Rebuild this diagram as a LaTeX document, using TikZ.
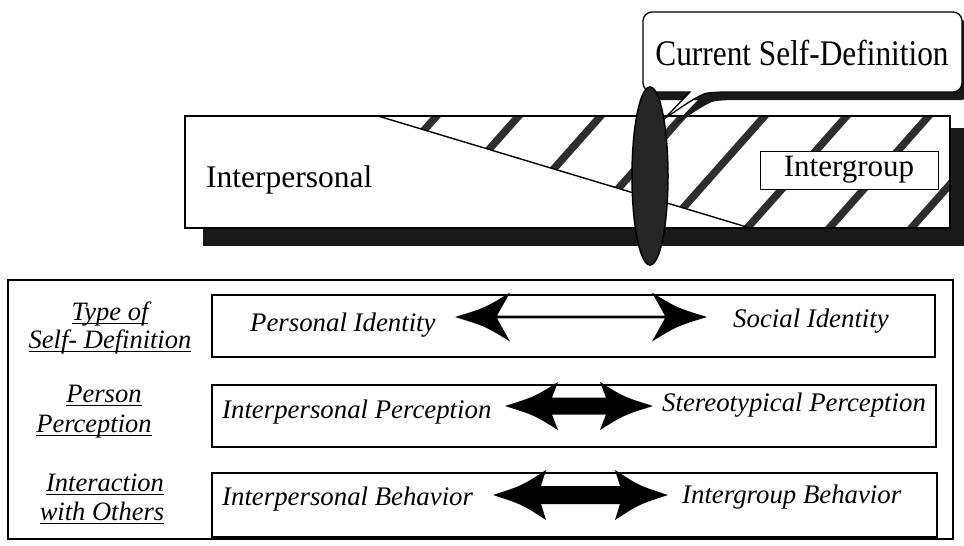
\documentclass[tikz,border=0pt]{standalone}
\usepackage{fontspec}
\setmainfont{Liberation Serif}
\newcommand\ulx[1]{\setbox0\hbox{#1}\rlap{\rule[-4pt]{\wd0}{1.3pt}}\box0}
\newcommand\dblarrow[8]{%
  \fill[black] (#2,#4)
    .. controls ({#2+0.55*#5},{#4-0.38*#6}) .. ({#2+#5},{#4-#6})
    -- ({#2+#5-#8},{#4-#7}) -- ({#3-#5+#8},{#4-#7}) -- ({#3-#5},{#4-#6})
    .. controls ({#3-0.55*#5},{#4-0.38*#6}) .. (#3,#4)
    .. controls ({#3-0.55*#5},{#4+0.38*#6}) .. ({#3-#5},{#4+#6})
    -- ({#3-#5+#8},{#4+#7}) -- ({#2+#5-#8},{#4+#7}) -- ({#2+#5},{#4+#6})
    .. controls ({#2+0.55*#5},{#4+0.38*#6}) .. (#2,#4) -- cycle;
  \coordinate (#1) at ({(#2+#3)/2},#4);}
\begin{document}
\begin{tikzpicture}[x=1pt,y=-1pt,
  shadowc/.style={fill=black!90},
  bandtxt/.style={font=\fontsize{31.5}{36}\selectfont, anchor=base west, inner sep=0},
  itxt/.style={font=\fontsize{26.8}{30}\selectfont\itshape, anchor=base west, inner sep=0},
  lbl/.style={font=\fontsize{26.5}{30}\selectfont\itshape, anchor=base, inner sep=0},
  rowbox/.style={draw, line width=1.4pt},
  stripe/.style={line width=7.5pt, draw=black!82},
  frame/.style={line width=1.5pt}]
\useasboundingbox (0,0) rectangle (964,546);

% ---- top band ----
\fill[shadowc] (203,128) rectangle (968,246);
\fill[white] (185,116) rectangle (950,228);
\begin{scope}
  \clip (378,116) -- (950,116) -- (950,228) -- (750,228) -- cycle;
  \foreach \k in {-1,...,8}
    \draw[stripe] ({437+82*\k+5},110) -- ({437+82*\k-105},234);
\end{scope}
\draw[line width=1.4pt] (378,116) -- (750,228);
\draw[frame] (185,116) rectangle (950,228);

\node[bandtxt] (ip) at (206,187) {Interpersonal};
\node[draw, fill=white, line width=1pt, minimum width=178, minimum height=38,
      inner sep=0, font=\fontsize{31}{34}\selectfont] (ig) at (849,170) {Intergroup};

% ---- callout ----
\fill[shadowc, shift={(8,8)}]
  [rounded corners=9] (643,50) -- (643,12) -- (962,12) -- (962,92) -- (716,92)
  [sharp corners] .. controls (700,94) and (680,108) .. (664,119) -- (690,92)
  [rounded corners=9] -- (643,92) -- cycle;
\draw[fill=white, line width=1.3pt]
  [rounded corners=9] (643,50) -- (643,12) -- (962,12) -- (962,92) -- (716,92)
  [sharp corners] .. controls (700,94) and (680,108) .. (664,119) -- (690,92)
  [rounded corners=9] -- (643,92) -- cycle;
\node[font=\fontsize{36}{40}\selectfont, inner sep=0, anchor=base] (csd) at (802,65)
  {\scalebox{0.87}[1]{Current Self-Definition}};

% ---- ellipse ----
\filldraw[fill=black!85, draw=black, line width=1.5pt] (650,176) ellipse [x radius=18, y radius=89];

% ---- lower panel ----
\draw[frame] (8,280) rectangle (953,539);
\draw[rowbox] (212,295) rectangle (935,357);
\draw[rowbox] (212,385) rectangle (936,447);
\draw[rowbox] (212,473) rectangle (937,537);

\node[lbl] (l1a) at (110,320) {\ulx{Type of}};
\node[lbl] (l1b) at (110,348) {\ulx{Self- Definition}};
\node[lbl] (l2a) at (104,402) {\ulx{Person}};
\node[lbl] (l2b) at (94,432) {\ulx{Perception}};
\node[lbl] (l3a) at (105,491) {\ulx{Interaction}};
\node[lbl] (l3b) at (102,520) {\ulx{with Others}};

\node[itxt] (pi) at (250,331) {Personal Identity};
\node[itxt] (si) at (733,327) {Social Identity};
\node[itxt] (ipp) at (222,418) {Interpersonal Perception};
\node[itxt] (stp) at (662,411) {Stereotypical Perception};
\node[itxt] (ipb) at (222,505) {Interpersonal Behavior};
\node[itxt] (igb) at (682,503) {Intergroup Behavior};

\dblarrow{a1}{455}{707}{317}{55}{24.5}{1.3}{13}
\dblarrow{a2}{505}{653}{406}{53}{24}{8.5}{6}
\dblarrow{a3}{493}{668}{495}{53}{25}{9}{5}
\end{tikzpicture}
\end{document}
